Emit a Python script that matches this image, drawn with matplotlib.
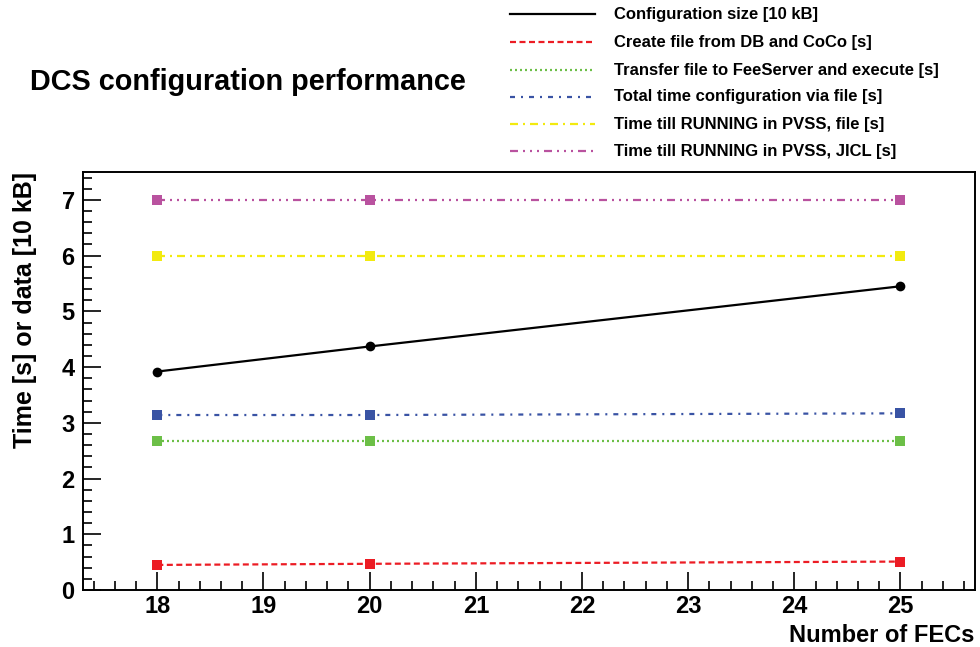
import matplotlib
matplotlib.use("Agg")
import matplotlib.pyplot as plt
from matplotlib.lines import Line2D
from matplotlib.ticker import MultipleLocator

plt.rcParams['font.family'] = ['Liberation Sans', 'DejaVu Sans']
plt.rcParams['font.weight'] = 'bold'
plt.rcParams['lines.scale_dashes'] = False

# Measurements per number of FECs
n_fecs = [18, 20, 25]
config_size = [3.92, 4.37, 5.45]      # [10 kB]
create_file = [0.45, 0.47, 0.51]      # [s]
transfer_file = [2.67, 2.67, 2.67]    # [s]
total_file = [3.14, 3.14, 3.17]       # [s]
running_file = [6.0, 6.0, 6.0]        # [s]
running_jicl = [7.0, 7.0, 7.0]        # [s]

PX = 0.72  # points per pixel at dpi 100

series = [
    ("Configuration size [10 kB]", config_size, "black", "-", "o"),
    ("Create file from DB and CoCo [s]", create_file, "#ec1c24",
     (0, (6 * PX, 3.5 * PX)), "s"),
    ("Transfer file to FeeServer and execute [s]", transfer_file, "#6cbf47",
     (0, (2 * PX, 3 * PX)), "s"),
    ("Total time configuration via file [s]", total_file, "#3953a4",
     (0, (5 * PX, 6 * PX, 2 * PX, 6 * PX)), "s"),
    ("Time till RUNNING in PVSS, file [s]", running_file, "#f2ea0f",
     (0, (8 * PX, 5 * PX, 2 * PX, 5 * PX)), "s"),
    ("Time till RUNNING in PVSS, JICL [s]", running_jicl, "#b9529f",
     (0, (8 * PX, 5 * PX, 2 * PX, 5 * PX, 2 * PX, 5 * PX, 2 * PX, 5 * PX)), "s"),
]

fig = plt.figure(figsize=(9.8, 6.47), dpi=100)
ax = fig.add_axes([0.0847, 0.0881, 0.910, 0.646])

for label, values, color, ls, marker in series:
    ax.plot(n_fecs, values, color=color, linestyle=ls, linewidth=1.6,
            marker=marker, markersize=7, markeredgewidth=0, zorder=3)

ax.set_xlim(17.3, 25.7)
ax.set_ylim(0, 7.5)
ax.xaxis.set_major_locator(MultipleLocator(1))
ax.xaxis.set_minor_locator(MultipleLocator(0.2))
ax.yaxis.set_major_locator(MultipleLocator(1))
ax.yaxis.set_minor_locator(MultipleLocator(0.2))
ax.tick_params(which='both', direction='in', width=1.2, labelsize=17)
ax.tick_params(which='major', length=13)
ax.tick_params(which='minor', length=6.5)
ax.tick_params(axis='x', pad=3.5)
ax.tick_params(axis='y', pad=6)
for lab in ax.get_xticklabels() + ax.get_yticklabels():
    lab.set_fontweight('bold')
for sp in ax.spines.values():
    sp.set_linewidth(1.4)

ax.set_ylabel("Time [s] or data [10 kB]", fontsize=18, fontweight='bold')
ax.yaxis.set_label_coords(-0.052, 1.0)
ax.yaxis.label.set_horizontalalignment('right')
ax.set_xlabel("Number of FECs", fontsize=17, fontweight='bold')
ax.xaxis.set_label_coords(1.0, -0.1244)
ax.xaxis.label.set_horizontalalignment('right')
ax.xaxis.label.set_verticalalignment('baseline')

fig.text(30 / 980, 1 - 90 / 647, "DCS configuration performance",
         fontsize=20.8, fontweight='bold', va='baseline', ha='left')

# Legend drawn as line samples with labels in the upper right
row_y = [14, 42, 70, 97, 124, 151]
for (label, values, color, ls, marker), y in zip(series, row_y):
    yf = 1 - y / 647
    fig.add_artist(Line2D([510 / 980, 595 / 980], [yf, yf], color=color,
                          linestyle=ls, linewidth=1.6,
                          transform=fig.transFigure))
    fig.text(614 / 980, yf, label, fontsize=12, fontweight='bold',
             va='center', ha='left')

fig.savefig("out.png", dpi=100)
